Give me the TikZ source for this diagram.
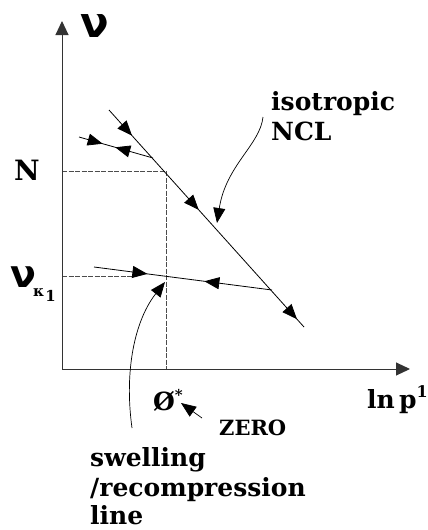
\documentclass[tikz,border=0pt]{standalone}
\usepackage{fontspec}
\setmainfont{DejaVu Serif}
\newfontfamily\greekfont{DejaVu Sans}
\usetikzlibrary{arrows.meta,decorations.markings}
\tikzset{tri/.tip={Triangle[length=15pt,width=12pt]}}
\begin{document}
\begin{tikzpicture}[x=1pt,y=-1pt,
  axis/.style={line width=1pt, draw=black!80, -{Triangle[length=14pt,width=13pt]}},
  thinline/.style={line width=0.8pt},
  guide/.style={line width=0.8pt, draw=black!70, dash pattern=on 5pt off 1.5pt},
  lbl/.style={inner sep=0pt, anchor=base west, font=\bfseries\fontsize{25}{30}\selectfont},
  small/.style={inner sep=0pt, anchor=base west, font=\bfseries\fontsize{21}{24}\selectfont},
  pointer/.style={line width=0.7pt, -{tri}}]
\useasboundingbox (0,0) rectangle (428,530);
% coordinates
\coordinate (O) at (62,369);
\coordinate (Ytip) at (62,21);
\coordinate (Xtip) at (410,369);
\coordinate (A) at (109,110);
\coordinate (B) at (304,327);
\coordinate (C) at (79,137);
\coordinate (D) at (153,158);
\coordinate (E) at (94,267);
\coordinate (F) at (272,290);
\coordinate (Nl) at (62,171);
\coordinate (Nc) at (166,171);
\coordinate (Nb) at (166,369);
\coordinate (Kl) at (62,276);
\coordinate (Kr) at (136,276);
\coordinate (S1) at (263,117);
\coordinate (T1) at (217,223);
\coordinate (S2) at (132,428);
\coordinate (T2) at (165,282);
\coordinate (S3) at (202,418);
\coordinate (T3) at (181,403);
% guides
\draw[guide] (Nl) -- (Nc) -- (Nb);
\draw[guide] (Kl) -- (Kr);
% axes
\draw[axis] (O) -- (Ytip);
\draw[axis] (O) -- (Xtip);
% NCL
\draw[thinline, postaction={decorate}, decoration={markings,
   mark=at position 0.118 with {\arrow{tri}},
   mark=at position 0.46 with {\arrow{tri}},
   mark=at position 0.964 with {\arrow{tri}}}] (A) -- (B);
% swelling lines
\draw[thinline, postaction={decorate}, decoration={markings,
   mark=at position 0.32 with {\arrow{tri}},
   mark=at position 0.49 with {\arrowreversed{tri}}}] (C) -- (D);
\draw[thinline, postaction={decorate}, decoration={markings,
   mark=at position 0.30 with {\arrow{tri}},
   mark=at position 0.62 with {\arrowreversed{tri}}}] (E) -- (F);
% pointers
\draw[pointer] (S1) .. controls (260,145) and (226,165) .. (T1);
\draw[pointer] (S2) .. controls (124,370) and (135,320) .. (T2);
\draw[pointer] (S3) -- (T3);
% labels
\node[inner sep=0pt, anchor=base west, font=\greekfont\bfseries\fontsize{42}{42}\selectfont] (nu) at (80,37) {ν};
\node[lbl, font=\bfseries\fontsize{28}{30}\selectfont] (N) at (14,180) {N};
\node[inner sep=0pt, anchor=base west] (nuk) at (10,287) {{\greekfont\bfseries\fontsize{38}{38}\selectfont ν}\kern-3pt\raisebox{-9pt}{\bfseries\fontsize{15}{15}\selectfont κ\kern1pt\raisebox{-5pt}{1}}};
\node[lbl] (iso1) at (271,110) {isotropic};
\node[lbl] (iso2) at (271,140) {NCL};
\node[lbl] (sw1) at (90,466) {swelling};
\node[lbl] (sw2) at (90,496) {/recompression};
\node[lbl] (sw3) at (90,524) {line};
\node[lbl] (phi) at (153,410) {Ø\raisebox{10pt}{\fontsize{15}{15}\selectfont *}};
\node[small] (zero) at (219,435) {ZERO};
\node[lbl] (lnp) at (367,408) {ln\,p\raisebox{11pt}{\fontsize{16}{16}\selectfont 1}};
\end{tikzpicture}
\end{document}
